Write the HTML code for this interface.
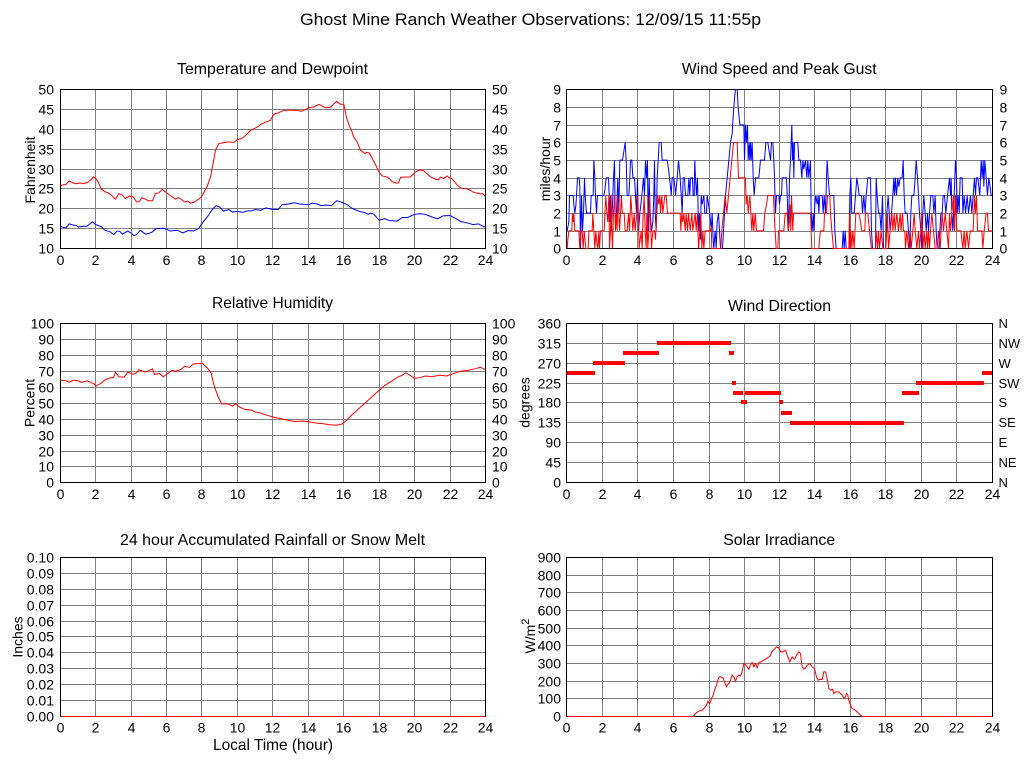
<!DOCTYPE html>
<html><head><meta charset="utf-8"><style>
html,body{margin:0;padding:0;background:#fff;}
svg{display:block;}
text{font-family:"Liberation Sans",Arial,sans-serif;fill:#000;}
.t14{font-size:14px;}
.ttl{font-size:16px;}
</style></head><body>
<svg width="1024" height="768" viewBox="0 0 1024 768" xmlns="http://www.w3.org/2000/svg">
<rect width="1024" height="768" fill="#fff"/>
<defs>
<clipPath id="cw"><rect x="566.5" y="88" width="426.5" height="162"/></clipPath>
</defs>

<text x="300" y="25" font-size="17" textLength="461" lengthAdjust="spacingAndGlyphs">Ghost Mine Ranch Weather Observations: 12/09/15 11:55p</text>

<!-- titles -->
<g class="ttl" text-anchor="middle">
<text x="272.5" y="74" textLength="191" lengthAdjust="spacingAndGlyphs">Temperature and Dewpoint</text>
<text x="779.2" y="74" textLength="195" lengthAdjust="spacingAndGlyphs">Wind Speed and Peak Gust</text>
<text x="272.5" y="308" textLength="121" lengthAdjust="spacingAndGlyphs">Relative Humidity</text>
<text x="779.5" y="311" textLength="103" lengthAdjust="spacingAndGlyphs">Wind Direction</text>
<text x="272.5" y="545" textLength="305" lengthAdjust="spacingAndGlyphs">24 hour Accumulated Rainfall or Snow Melt</text>
<text x="779.2" y="545" textLength="112" lengthAdjust="spacingAndGlyphs">Solar Irradiance</text>
<text x="273" y="750" textLength="120" lengthAdjust="spacingAndGlyphs">Local Time (hour)</text>
</g>

<!-- axis titles -->
<g class="t14" text-anchor="middle">
<text transform="translate(35,170) rotate(-90)">Fahrenheit</text>
<text transform="translate(550,169) rotate(-90)">miles/hour</text>
<text transform="translate(34.5,403) rotate(-90)">Percent</text>
<text transform="translate(529.5,402.5) rotate(-90)">degrees</text>
<text transform="translate(22.5,637) rotate(-90)">Inches</text>
<text transform="translate(535,636) rotate(-90)">W/m<tspan font-size="11" dy="-6">2</tspan></text>
</g>

<!-- grids -->
<g stroke="#808080" stroke-width="1" fill="none" shape-rendering="crispEdges">
<path d="M95.5 89.5V248.5M131.5 89.5V248.5M166.5 89.5V248.5M201.5 89.5V248.5M237.5 89.5V248.5M272.5 89.5V248.5M308.5 89.5V248.5M343.5 89.5V248.5M379.5 89.5V248.5M414.5 89.5V248.5M450.5 89.5V248.5M60.5 109.5H485.5M60.5 129.5H485.5M60.5 149.5H485.5M60.5 169.5H485.5M60.5 188.5H485.5M60.5 208.5H485.5M60.5 228.5H485.5"/>
<path d="M602.5 89.5V248.5M637.5 89.5V248.5M673.5 89.5V248.5M709.5 89.5V248.5M744.5 89.5V248.5M779.5 89.5V248.5M814.5 89.5V248.5M850.5 89.5V248.5M885.5 89.5V248.5M921.5 89.5V248.5M956.5 89.5V248.5M566.5 107.5H992.5M566.5 125.5H992.5M566.5 142.5H992.5M566.5 160.5H992.5M566.5 178.5H992.5M566.5 195.5H992.5M566.5 213.5H992.5M566.5 231.5H992.5"/>
<path d="M95.5 323.5V482.5M131.5 323.5V482.5M166.5 323.5V482.5M201.5 323.5V482.5M237.5 323.5V482.5M272.5 323.5V482.5M308.5 323.5V482.5M343.5 323.5V482.5M379.5 323.5V482.5M414.5 323.5V482.5M450.5 323.5V482.5M60.5 339.5H485.5M60.5 355.5H485.5M60.5 371.5H485.5M60.5 387.5H485.5M60.5 403.5H485.5M60.5 419.5H485.5M60.5 435.5H485.5M60.5 451.5H485.5M60.5 466.5H485.5"/>
<path d="M602.5 323.5V482.5M637.5 323.5V482.5M673.5 323.5V482.5M709.5 323.5V482.5M744.5 323.5V482.5M779.5 323.5V482.5M814.5 323.5V482.5M850.5 323.5V482.5M885.5 323.5V482.5M921.5 323.5V482.5M956.5 323.5V482.5M566.5 343.5H992.5M566.5 363.5H992.5M566.5 383.5H992.5M566.5 402.5H992.5M566.5 422.5H992.5M566.5 442.5H992.5M566.5 462.5H992.5"/>
<path d="M95.5 557.5V716.5M131.5 557.5V716.5M166.5 557.5V716.5M201.5 557.5V716.5M237.5 557.5V716.5M272.5 557.5V716.5M308.5 557.5V716.5M343.5 557.5V716.5M379.5 557.5V716.5M414.5 557.5V716.5M450.5 557.5V716.5M60.5 573.5H485.5M60.5 589.5H485.5M60.5 605.5H485.5M60.5 621.5H485.5M60.5 636.5H485.5M60.5 652.5H485.5M60.5 668.5H485.5M60.5 684.5H485.5M60.5 700.5H485.5"/>
<path d="M602.5 557.5V716.5M637.5 557.5V716.5M673.5 557.5V716.5M709.5 557.5V716.5M744.5 557.5V716.5M779.5 557.5V716.5M814.5 557.5V716.5M850.5 557.5V716.5M885.5 557.5V716.5M921.5 557.5V716.5M956.5 557.5V716.5M566.5 575.5H992.5M566.5 592.5H992.5M566.5 610.5H992.5M566.5 628.5H992.5M566.5 645.5H992.5M566.5 663.5H992.5M566.5 681.5H992.5M566.5 698.5H992.5"/>
</g>
<g stroke="#000" stroke-width="1" fill="none" shape-rendering="crispEdges">
<rect x="60.5" y="89.5" width="425" height="159"/>
<rect x="566.5" y="89.5" width="426" height="159"/>
<rect x="60.5" y="323.5" width="425" height="159"/>
<rect x="566.5" y="323.5" width="426" height="159"/>
<rect x="60.5" y="557.5" width="425" height="159"/>
<rect x="566.5" y="557.5" width="426" height="159"/>
</g>

<!-- y labels -->
<g class="t14" text-anchor="end">
<text x="54" y="94.5">50</text><text x="54" y="114.5">45</text><text x="54" y="134.5">40</text><text x="54" y="154.5">35</text><text x="54" y="174.5">30</text><text x="54" y="193.5">25</text><text x="54" y="213.5">20</text><text x="54" y="233.5">15</text><text x="54" y="253.5">10</text>
<text x="561" y="94.5">9</text><text x="561" y="112.5">8</text><text x="561" y="130.5">7</text><text x="561" y="147.5">6</text><text x="561" y="165.5">5</text><text x="561" y="183.5">4</text><text x="561" y="200.5">3</text><text x="561" y="218.5">2</text><text x="561" y="236.5">1</text><text x="561" y="253.5">0</text>
<text x="54" y="328.5">100</text><text x="54" y="344.5">90</text><text x="54" y="360.5">80</text><text x="54" y="376.5">70</text><text x="54" y="392.5">60</text><text x="54" y="408.5">50</text><text x="54" y="424.5">40</text><text x="54" y="440.5">30</text><text x="54" y="456.5">20</text><text x="54" y="471.5">10</text><text x="54" y="487.5">0</text>
<text x="561" y="328.5">360</text><text x="561" y="348.5">315</text><text x="561" y="368.5">270</text><text x="561" y="388.5">225</text><text x="561" y="407.5">180</text><text x="561" y="427.5">135</text><text x="561" y="447.5">90</text><text x="561" y="467.5">45</text><text x="561" y="487.5">0</text>
<text x="54" y="562.5">0.10</text><text x="54" y="578.5">0.09</text><text x="54" y="594.5">0.08</text><text x="54" y="610.5">0.07</text><text x="54" y="626.5">0.06</text><text x="54" y="641.5">0.05</text><text x="54" y="657.5">0.04</text><text x="54" y="673.5">0.03</text><text x="54" y="689.5">0.02</text><text x="54" y="705.5">0.01</text><text x="54" y="721.5">0.00</text>
<text x="561" y="562.5">900</text><text x="561" y="580.5">800</text><text x="561" y="597.5">700</text><text x="561" y="615.5">600</text><text x="561" y="633.5">500</text><text x="561" y="650.5">400</text><text x="561" y="668.5">300</text><text x="561" y="686.5">200</text><text x="561" y="703.5">100</text><text x="561" y="721.5">0</text>
</g>
<g class="t14" text-anchor="start">
<text x="492" y="94.5">50</text><text x="492" y="114.5">45</text><text x="492" y="134.5">40</text><text x="492" y="154.5">35</text><text x="492" y="174.5">30</text><text x="492" y="193.5">25</text><text x="492" y="213.5">20</text><text x="492" y="233.5">15</text><text x="492" y="253.5">10</text>
<text x="999.5" y="94.5">9</text><text x="999.5" y="112.5">8</text><text x="999.5" y="130.5">7</text><text x="999.5" y="147.5">6</text><text x="999.5" y="165.5">5</text><text x="999.5" y="183.5">4</text><text x="999.5" y="200.5">3</text><text x="999.5" y="218.5">2</text><text x="999.5" y="236.5">1</text><text x="999.5" y="253.5">0</text>
<text x="492" y="328.5">100</text><text x="492" y="344.5">90</text><text x="492" y="360.5">80</text><text x="492" y="376.5">70</text><text x="492" y="392.5">60</text><text x="492" y="408.5">50</text><text x="492" y="424.5">40</text><text x="492" y="440.5">30</text><text x="492" y="456.5">20</text><text x="492" y="471.5">10</text><text x="492" y="487.5">0</text>
</g>
<g font-size="13" text-anchor="start">
<text x="998.5" y="328">N</text><text x="998.5" y="348">NW</text><text x="998.5" y="368">W</text><text x="998.5" y="388">SW</text><text x="998.5" y="407">S</text><text x="998.5" y="427">SE</text><text x="998.5" y="447">E</text><text x="998.5" y="467">NE</text><text x="998.5" y="487">N</text>
</g>

<!-- x labels -->
<g class="t14" text-anchor="middle">
<text x="60.5" y="265">0</text><text x="95.5" y="265">2</text><text x="131.5" y="265">4</text><text x="166.5" y="265">6</text><text x="201.5" y="265">8</text><text x="237.5" y="265">10</text><text x="272.5" y="265">12</text><text x="308.5" y="265">14</text><text x="343.5" y="265">16</text><text x="379.5" y="265">18</text><text x="414.5" y="265">20</text><text x="450.5" y="265">22</text><text x="485.5" y="265">24</text>
<text x="566.5" y="265">0</text><text x="602.5" y="265">2</text><text x="637.5" y="265">4</text><text x="673.5" y="265">6</text><text x="709.5" y="265">8</text><text x="744.5" y="265">10</text><text x="779.5" y="265">12</text><text x="814.5" y="265">14</text><text x="850.5" y="265">16</text><text x="885.5" y="265">18</text><text x="921.5" y="265">20</text><text x="956.5" y="265">22</text><text x="992.5" y="265">24</text>
<text x="60.5" y="499">0</text><text x="95.5" y="499">2</text><text x="131.5" y="499">4</text><text x="166.5" y="499">6</text><text x="201.5" y="499">8</text><text x="237.5" y="499">10</text><text x="272.5" y="499">12</text><text x="308.5" y="499">14</text><text x="343.5" y="499">16</text><text x="379.5" y="499">18</text><text x="414.5" y="499">20</text><text x="450.5" y="499">22</text><text x="485.5" y="499">24</text>
<text x="566.5" y="499">0</text><text x="602.5" y="499">2</text><text x="637.5" y="499">4</text><text x="673.5" y="499">6</text><text x="709.5" y="499">8</text><text x="744.5" y="499">10</text><text x="779.5" y="499">12</text><text x="814.5" y="499">14</text><text x="850.5" y="499">16</text><text x="885.5" y="499">18</text><text x="921.5" y="499">20</text><text x="956.5" y="499">22</text><text x="992.5" y="499">24</text>
<text x="60.5" y="732.5">0</text><text x="95.5" y="732.5">2</text><text x="131.5" y="732.5">4</text><text x="166.5" y="732.5">6</text><text x="201.5" y="732.5">8</text><text x="237.5" y="732.5">10</text><text x="272.5" y="732.5">12</text><text x="308.5" y="732.5">14</text><text x="343.5" y="732.5">16</text><text x="379.5" y="732.5">18</text><text x="414.5" y="732.5">20</text><text x="450.5" y="732.5">22</text><text x="485.5" y="732.5">24</text>
<text x="566.5" y="732.5">0</text><text x="602.5" y="732.5">2</text><text x="637.5" y="732.5">4</text><text x="673.5" y="732.5">6</text><text x="709.5" y="732.5">8</text><text x="744.5" y="732.5">10</text><text x="779.5" y="732.5">12</text><text x="814.5" y="732.5">14</text><text x="850.5" y="732.5">16</text><text x="885.5" y="732.5">18</text><text x="921.5" y="732.5">20</text><text x="956.5" y="732.5">22</text><text x="992.5" y="732.5">24</text>
</g>

<!-- Temperature & dewpoint -->
<g transform="matrix(17.7083 0 0 -3.975 60.5 288.25)" fill="none" stroke-width="1" vector-effect="non-scaling-stroke">
<polyline vector-effect="non-scaling-stroke" stroke="#ff0000" points="0,25.8 0.15,26 0.3,26.1 0.5,27 0.7,26.5 0.9,26.3 1.1,26.5 1.3,26.3 1.5,26.6 1.7,27.2 1.85,28 2.0,27.6 2.15,26.5 2.3,25 2.5,24.3 2.7,24 2.9,23.3 3.1,22.4 3.3,23.8 3.5,23.4 3.65,22.6 3.9,23.2 4.1,23 4.3,21.7 4.45,21.8 4.6,22.8 4.8,22.4 4.95,22 5.2,22 5.35,23.8 5.55,24 5.75,24.9 6.0,24 6.2,23.3 6.5,22.4 6.65,22.8 6.85,22.3 7.0,21.7 7.2,21.9 7.35,21.4 7.55,21.7 7.8,22.4 7.96,23 8.15,24.5 8.3,25.8 8.47,28 8.6,31 8.75,34.7 8.94,36.4 9.2,36.6 9.45,36.8 9.6,36.8 9.8,36.7 9.98,37.4 10.2,37.6 10.45,38.4 10.73,39.7 11.0,40.3 11.2,40.75 11.3,41.25 11.6,41.8 11.86,42.25 12.0,43.5 12.1,43.9 12.3,44.1 12.6,44.75 13.0,44.8 13.4,44.7 13.6,44.5 13.8,44.9 14.0,45.4 14.3,45.6 14.6,46.25 14.8,45.8 14.96,45.4 15.25,45.6 15.45,46.4 15.6,47 15.8,46.3 16.0,46.3 16.15,43 16.3,41 16.45,39.5 16.56,38 16.75,36.8 16.94,34.75 17.2,33.9 17.3,34.2 17.45,34 17.6,32.7 17.8,31 17.97,29.3 18.17,28.25 18.45,28 18.6,27.5 18.73,26.8 19.0,26.4 19.1,26.6 19.2,27.9 19.5,28 19.76,28 20.05,29.3 20.3,29.75 20.5,29.6 20.7,28.8 20.9,28 21.2,27.4 21.35,27.3 21.46,28 21.65,27.6 21.84,28.25 21.95,27.8 22.1,27.6 22.25,26.8 22.4,26 22.6,25.2 22.97,25 23.15,24.6 23.34,24.1 23.5,24 23.7,23.75 23.85,23.8 24,23"/>
<polyline vector-effect="non-scaling-stroke" stroke="#0000ff" points="0,15.6 0.15,15.3 0.3,15.2 0.5,16.2 0.7,15.9 0.9,15.8 1.0,15.4 1.3,15.6 1.5,15.6 1.6,16.0 1.8,16.7 2.0,16.0 2.3,15.5 2.5,14.6 2.8,14.2 3.0,13.5 3.2,14.4 3.35,14.3 3.5,13.6 3.8,14.4 4.0,13.8 4.15,13.25 4.3,13.5 4.5,14.6 4.8,13.6 5.0,13.8 5.2,14.2 5.4,15 5.8,15.1 6.0,14.8 6.2,14.4 6.6,14.6 6.9,13.9 7.2,14.5 7.5,14.4 7.8,15 8.0,16.4 8.3,18 8.6,20 8.8,20.8 8.9,20.6 9.0,20.4 9.2,19.4 9.5,19.8 9.7,19.2 10.0,19.3 10.3,19.1 10.5,19.4 10.8,19.5 11.0,19.8 11.3,19.6 11.6,20.2 12.0,19.8 12.3,19.8 12.5,21 12.9,21.2 13.2,21.5 13.5,21.2 14.0,21.0 14.2,21.4 14.5,21.2 14.7,20.8 15.0,20.9 15.3,20.8 15.6,22 15.9,21.6 16.2,21 16.5,20 16.9,19.3 17.2,19 17.4,18.6 17.5,18.9 17.7,18.6 18.0,17.1 18.3,17.5 18.6,17.0 19.0,16.9 19.3,17.8 19.6,17.8 20.0,18.6 20.3,18.75 20.6,18.6 21.0,17.9 21.3,17.5 21.6,18.2 22.0,18.3 22.3,17.6 22.6,16.8 23.0,16.4 23.3,16.0 23.6,16.2 23.8,15.7 24,15.4"/>
</g>

<!-- Relative humidity -->
<g transform="matrix(17.7083 0 0 -1.59 60.5 482.5)" fill="none">
<polyline vector-effect="non-scaling-stroke" stroke="#ff0000" stroke-width="1" points="0,64.2 0.3,64 0.5,63 0.7,64.3 1.0,64 1.2,63 1.5,64 1.7,63 1.9,62 2.0,60.6 2.3,62.5 2.5,64.5 2.8,65.8 3.0,66 3.1,69.4 3.3,66.5 3.6,66.3 3.8,69.4 4.1,68 4.3,69 4.42,70.9 4.8,69.5 5.0,70.5 5.2,71.5 5.3,68 5.6,68.5 5.8,66.5 6.0,68 6.3,70.5 6.5,70 6.8,71 7.0,73 7.3,72.5 7.5,74.5 8.0,75 8.3,72 8.5,69 8.7,60 8.9,54 9.1,49.5 9.5,49.3 9.7,48 9.9,49.5 10.1,47.5 10.4,46 10.8,45.5 11.0,44.3 11.3,43.7 11.6,42.5 12.0,41.2 12.4,40.3 12.8,39.2 13.2,38.4 13.6,38.6 14.0,38.3 14.4,37.4 14.8,37.0 15.2,36.3 15.6,36.0 15.9,36.8 16.1,38.5 16.4,42 16.8,46 17.2,50 17.6,54 18.0,58 18.3,61 18.6,63 19.0,66 19.3,67.5 19.5,69 19.8,67 20.0,65.5 20.3,66 20.6,67 21.0,66.5 21.4,67.5 21.8,67 22.2,68.5 22.6,70 23.0,70.5 23.4,71.5 23.7,72.5 24,71"/>
</g>

<!-- Wind speed / gust -->
<g clip-path="url(#cw)" fill="none" stroke-width="1">
<g transform="matrix(0.33333 0 0 -17.667 510.5 248.5)">
<polyline vector-effect="non-scaling-stroke" stroke="#0000ff" points="170,1 175,1.5 177,3 188,3 190,2.5 193,2 196,2.4 198,3 201,4 206,4 208,3.5 210,0 213,3 216,1 219,2 222,4 224,3 228,2 240,2 242,3 248,3 250,5 253,4 255,3 258,2 261,3 280,3 283,3.3 287,4 294,4 296,3 298,1.5 300,3 302,1 305,2 309,4 312,5 314,2 317,1.5 320,3 322,4 325,2 328,5 336,5 340,5.5 344,6 347,5 350,3 355,3 358,4 360,5 364,5 367,4 372,4 375,3 378,2 381,4 384,1 388,2 394,3 399,4 402,3 405,5 408,4 411,5 413,1 416,4 419,2 423,1 427,1.5 430,3 432,5 434,2 437,1 440,4 443,5 446,6 452,6 455,5 470,5 474,4.5 477,4 480,3.5 482,3 485,4 490,4 493,3.5 495,3 500,4 504,5 509,4 512,3 515,2 518,4 522,4 525,3 532,3 535,4 538,3 540,4 546,4 548,3 551,3 553,5 555,4 558,3 561,4 563,2 565,1 567,2 570,0.5 572,3 575,2.5 580,3 583,2 588,2 590,3 594,2.5 598,2 602,1 605,2 608,0.5 610,0 614,1 617,0 620,1.5 624,2 627,1 630,0 636,0 639,1 642,2 645,3 650,4 655,5 660,6 665,6.5 668,7.5 672,8.5 675,9 680,9 683,8 688,7 700,7 702,5 705,7 708,6 711,7 713,5 716,6 718,5 720,6 722,5 725,6 728,4 731,3 735,4 745,4 750,5 762,5 766,6 772,6 780,5"/>
<polyline vector-effect="non-scaling-stroke" stroke="#ff0000" points="170,0 172,0.5 175,1 184,1 186,2 188,1.5 190,2 193,1 205,1 208,0 211,1 215,1 218,0 221,1 226,0 233,0 235,1 245,1 247,2 250,1 253,0 256,1 259,0.3 262,0 265,1 267,0 270,1 281,1 283,2 286,3 289,2 292,1.5 295,3 297,0 300,1 302,3 304,1 306,0 309,2 312,3 315,1 317,2 320,1 322,3 325,2 327,1 330,2 333,3 335,2 341,2 344,1 350,1 354,2 357,1 361,3 364,2 367,1 371,2 374,1 379,2 382,3 386,0 389,0.5 392,1 395,0 398,2 401,3 404,1 407,0 409,2 412,0 415,1 417,3 420,1.5 423,0 427,1 432,1 435,0.5 439,2 442,3 445,2.5 448,3 450,2 454,3 457,2 463,3 467,3 471,2 509,2 511,1 514,2 517,1.5 520,2 524,1 527,2 531,1 534,2 539,1 544,2 547,1 554,2 557,1 561,2 564,0 568,1 571,2 574,0 577,1 580,0 584,1 600,1 602,1.3 604,0 631,0 634,1 639,2 644,3 649,2 654,3 659,4 664,5 669,6 680,6 684,4 705,4 707,2.5 710,3 713,2 718,3 721,2 724,1 727,2 730,1 734,2 738,1 759,1 763,2 768,2.5 772,3 780,3"/>
</g>
<g transform="matrix(0.33333 0 0 -17.667 770.5 248.5)">
<polyline vector-effect="non-scaling-stroke" stroke="#0000ff" points="0,5 3,6 7,6 10,5 12,4 15,2 18,3 25,3 27,2.5 30,3 33,3 35,4 48,4 50,3 54,1 57,4 60,5 62,6 64,7 66,5 68,6 70,4 72,6 82,6 85,5 90,5 94,4 97,5 100,4.5 105,5 109,4 112,5 115,4 120,5 122,2 125,1 128,2 130,1 133,2.5 136,3 140,2.5 143,3 145,2 148,3 155,3 158,2 161,3 165,2 168,4 170,5 173,4 177,3 190,3 193,1 197,0 215,0 218,1 221,0 224,1 227,0 236,0 238,3 241,4 244,2 251,2 255,3 259,4 263,3.5 266,3 273,3 276,2 280,3 284,2 287,3 292,4 300,4 303,1 306,0 315,0 317,4 320,3 324,2 328,2 332,1 336,3 339,0 346,0 349,2 353,3 356,2 359,1 363,2 367,3 370,4 372,3 375,4 378,3 382,4 385,3.5 389,4 395,4 398,5 401,3 404,2 410,2 414,1 418,0 421,2 424,3 430,3 434,4 437,5 441,4 444,3 447,2 451,1 454,0 457,2 460,3 464,2 467,1 471,2 474,1 477,2 481,3 487,3 490,2 494,3 497,1 500,0 505,0 508,1 511,2 515,2 518,3 522,3 526,2 531,3 537,4 540,3 542,4 544,2 547,1 551,3 555,5 558,4 560,2 563,3 566,2 569,4 575,4 577,2 581,3 585,2 590,3 594,2 600,3 604,2 608,3 612,4 615,3 618,4 622,4 625,3.5 628,3 632,5 635,4 638,5 640,3.5 643,5 647,4 651,3 655,4 659,3.5 662,3 667,3"/>
<polyline vector-effect="non-scaling-stroke" stroke="#ff0000" points="0,3 9,3 11,2 14,1 17,0 22,0 24,1 40,1 44,2 50,2 53,1 57,1.5 59,2.5 61,1 63,3 65,2 67,1 69,2 120,2 122,1 124,0 145,0 147,0.5 150,1 160,1 162,2 168,2 171,3 178,3 180,2 184,1 189,0 235,0 237,2 239,0 241,1 244,0 247,1 251,0 256,2 265,2 270,1.5 274,1 283,1 285,2 292,2 297,1 303,0 315,0 317,1 321,0 324,1 327,0 332,1 337,0 346,0 349,1 351,2 354,0 359,1 364,2 367,1 371,2 374,1 379,2 384,1 389,2 392,1 396,2 399,1 403,1 405,0 409,1 414,0 419,1 422,0 427,1 431,2 434,1 439,0 444,1 447,0 451,1 454,2 457,0 461,1 464,0 469,1 471,0 474,1 477,0 480,1 484,2 489,1 494,0 500,0 504,1 509,0 512,1 515,2 519,1 524,2 529,1 534,0 537,2 540,1 544,2 549,3 552,1 555,3 559,1 571,1 577,0 581,1 584,0 589,1 594,0 599,1 608,1 610,2 612,3 615,2 618,3 621,1 634,1 637,0 641,1 647,2 651,2 654,1 667,1"/>
</g>
</g>

<!-- Wind direction bars -->
<g fill="#ff0000" shape-rendering="crispEdges">
<rect x="567" y="371" width="28" height="4"/>
<rect x="593" y="361" width="32" height="4"/>
<rect x="623" y="351" width="36" height="4"/>
<rect x="657" y="341" width="74" height="4"/>
<rect x="729" y="351" width="5" height="4"/>
<rect x="732" y="381" width="4" height="4"/>
<rect x="733" y="391" width="10" height="4"/>
<rect x="741" y="400" width="6" height="4"/>
<rect x="745" y="391" width="36" height="4"/>
<rect x="779" y="400" width="4" height="4"/>
<rect x="781" y="411" width="11" height="4"/>
<rect x="790" y="421" width="114" height="4"/>
<rect x="902" y="391" width="17" height="4"/>
<rect x="916" y="381" width="68" height="4"/>
<rect x="982" y="371" width="10" height="4"/>
</g>

<!-- Rainfall -->
<line x1="60.5" y1="716.5" x2="485.5" y2="716.5" stroke="#ff0000" stroke-width="1" shape-rendering="crispEdges"/>

<!-- Solar -->
<g fill="none">
<g transform="translate(510.5 525.2) scale(0.33333)">
<polyline vector-effect="non-scaling-stroke" stroke="#ff0000" stroke-width="1" points="170,574 548,574 555,565 565,558 575,555 580,550 588,540 592,528 597,535 600,530 603,520 608,510 612,495 618,480 622,465 626,455 630,455 638,458 642,470 648,485 652,478 658,470 665,450 670,455 675,468 680,455 685,450 690,452 695,440 700,415 705,418 710,425 715,432 720,418 725,412 730,425 735,415 740,428 745,412 752,410 760,405 768,400 775,395 781,390"/>
</g>
<g transform="translate(770.5 525.2) scale(0.33333)">
<polyline vector-effect="non-scaling-stroke" stroke="#ff0000" stroke-width="1" points="0,390 5,378 12,372 18,365 25,368 30,380 38,380 45,375 50,390 58,410 65,395 72,402 78,390 85,380 90,385 95,425 100,432 105,428 110,420 118,415 125,425 132,430 138,455 143,465 150,462 155,463 160,440 165,440 170,460 175,490 180,495 186,492 190,505 195,500 205,500 210,505 215,510 220,520 225,515 228,505 232,510 235,525 240,540 245,550 255,555 265,565 275,574 665,574"/>
</g>
</g>
</svg>
</body></html>
